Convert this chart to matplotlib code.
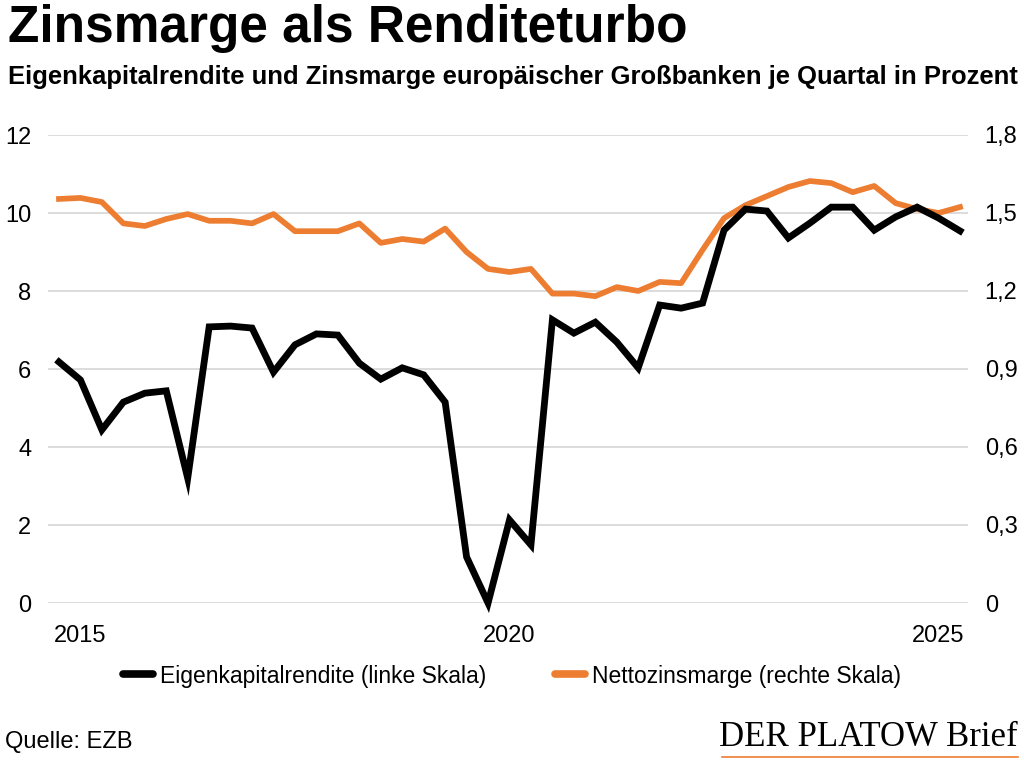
import numpy as np
import matplotlib.pyplot as plt
from matplotlib.lines import Line2D

# Quartale 2014Q4 bis 2025Q2
quartale = np.arange(43) * 0.25 + 2014.75

eigenkapitalrendite = [
    6.18, 5.72, 4.44, 5.15, 5.38, 5.44, 3.20, 7.08, 7.10, 7.05,
    5.92, 6.62, 6.90, 6.87, 6.15, 5.74, 6.03, 5.85, 5.15, 1.18,
    0.00, 2.13, 1.49, 7.26, 6.92, 7.20, 6.69, 6.03, 7.64, 7.56,
    7.69, 9.56, 10.10, 10.05, 9.36, 9.74, 10.15, 10.15, 9.56, 9.90,
    10.15, 9.87, 9.54,
]

nettozinsmarge = [
    1.554, 1.558, 1.542, 1.460, 1.450, 1.477, 1.496, 1.470, 1.470, 1.460,
    1.496, 1.430, 1.430, 1.430, 1.460, 1.385, 1.400, 1.390, 1.440, 1.350,
    1.285, 1.273, 1.285, 1.190, 1.190, 1.180, 1.215, 1.200, 1.235, 1.230,
    1.358, 1.480, 1.530, 1.565, 1.600, 1.623, 1.615, 1.580, 1.604, 1.538,
    1.515, 1.500, 1.523,
]

jahre = [2015, 2020, 2025]
links_ticks = [0, 2, 4, 6, 8, 10, 12]
rechts_ticks = [0, 0.3, 0.6, 0.9, 1.2, 1.5, 1.8]

schrift = ['Liberation Sans', 'DejaVu Sans']
orange = '#ED7D31'

fig = plt.figure(figsize=(10.24, 7.61), dpi=100)
ax = fig.add_axes([48 / 1024, 1 - 603 / 761, 920 / 1024, 468 / 761])
ax2 = ax.twinx()

ax.plot(quartale, eigenkapitalrendite, color='black', lw=4.9, clip_on=False, zorder=4,
        solid_joinstyle='miter')
ax2.plot(quartale, nettozinsmarge, color=orange, lw=4.1, clip_on=False, zorder=3)
ax.set_zorder(ax2.get_zorder() + 1)
ax.patch.set_visible(False)

ax.set_xlim(2014.622, 2025.343)
ax.set_ylim(0, 12)
ax2.set_ylim(0, 1.8)

ax.set_yticks(links_ticks)
ax.set_yticklabels([str(t) for t in links_ticks])
ax2.set_yticks(rechts_ticks)
ax2.set_yticklabels(['0' if t == 0 else f'{t:.1f}'.replace('.', ',') for t in rechts_ticks])
ax.set_xticks(jahre)
ax.set_xticklabels([str(j) for j in jahre])

ax2.grid(axis='y', color='#D9D9D9', lw=1.3)
ax2.set_axisbelow(True)

for a in (ax, ax2):
    for s in a.spines.values():
        s.set_visible(False)
    a.tick_params(length=0, labelsize=17)
    for lab in a.get_yticklabels() + a.get_xticklabels():
        lab.set_family(schrift)
ax.tick_params(axis='y', pad=12)
ax2.tick_params(axis='y', pad=12)
ax.tick_params(axis='x', pad=16)

fig.text(0.008, 0.963, 'Zinsmarge als Renditeturbo', fontsize=37, fontweight='bold',
         family=schrift, va='center', ha='left')
fig.text(0.008, 0.899, 'Eigenkapitalrendite und Zinsmarge europäischer Großbanken je Quartal in Prozent',
         fontsize=18.45, fontweight='bold', family=schrift, va='center', ha='left')

handles = [Line2D([], [], color='black', lw=5.5, solid_capstyle='round'),
           Line2D([], [], color=orange, lw=5.5, solid_capstyle='round')]
fig.legend(handles, ['Eigenkapitalrendite (linke Skala)', 'Nettozinsmarge (rechte Skala)'],
           loc='center', bbox_to_anchor=(0.5, 1 - 676 / 761), ncol=2, frameon=False,
           prop={'family': schrift, 'size': 16.5}, handlelength=1.3, handletextpad=0.3,
           columnspacing=3.0)

fig.text(0.005, 1 - 742 / 761, 'Quelle: EZB', fontsize=17, family=schrift, va='center', ha='left')
fig.text(0.994, 1 - 738 / 761, 'DER PLATOW Brief', fontsize=25,
         family=['Liberation Serif', 'DejaVu Serif'], va='center', ha='right')
fig.add_artist(Line2D([722 / 1024, 1018 / 1024], [1 - 757 / 761, 1 - 757 / 761],
                      color=orange, lw=1.2))

fig.savefig('out.png', dpi=100)
